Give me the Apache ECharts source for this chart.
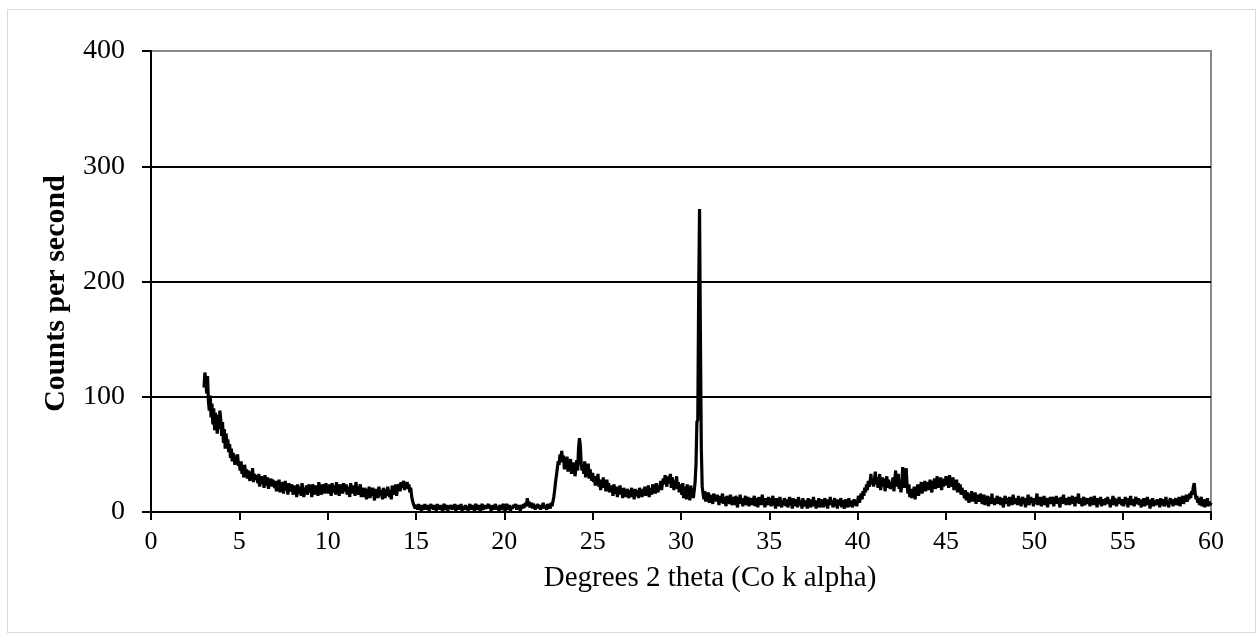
<!DOCTYPE html>
<html>
<head>
<meta charset="utf-8">
<script src="https://cdn.jsdelivr.net/npm/echarts@6/dist/echarts.min.js"></script>
<style>
html,body{margin:0;padding:0;background:#fff;}
#frame{position:absolute;left:7px;top:9px;width:1249px;height:624px;border:1px solid #d9d9d9;box-sizing:border-box;}
#chart{position:absolute;left:0;top:0;width:1260px;height:635px;}
</style>
</head>
<body>
<div id="frame"></div>
<div id="chart"></div>
<script>
// Scan settings (degrees 2 theta): each row starts at a whole degree
const firstDegree = 3;
const stepAngle = 0.05;
// Counts per second, one row per degree (x.00, x.05, ... x.95)
const countsByDegree = [
  [108,121,115,103,118,96,88,101,82,94,76,90,71,86,79,68,84,72,88,80],   // 3
  [66,78,60,72,55,68,58,63,52,59,47,55,44,51,49,41,47,43,50,40],        // 4
  [42,36,44,33,39,30,41,34,37,29,36,31,27,35,30,38,26,33,28,32],        // 5
  [30,25,33,22,28,31,24,29,21,32,26,23,30,20,27,25,29,22,28,24],        // 6
  [21,27,18,25,23,28,17,24,20,26,16,22,27,19,23,15,25,21,18,24],        // 7
  [20,15,23,17,21,13,24,18,16,22,14,25,19,13,21,17,23,15,20,24],        // 8
  [17,22,13,24,19,15,23,18,21,14,26,17,20,15,24,19,22,16,25,18],        // 9
  [21,16,24,19,14,25,20,17,23,15,26,18,22,14,24,19,21,16,25,20],        // 10
  [18,24,15,22,19,13,25,17,21,16,23,14,26,19,22,15,20,24,13,21],        // 11
  [18,13,21,16,11,20,15,22,12,19,14,21,17,10,20,15,18,12,22,16],        // 12
  [14,19,11,21,16,12,20,14,22,17,13,19,11,23,15,20,17,24,14,21],        // 13
  [20,24,18,26,21,23,27,19,25,22,26,20,24,17,21,14,10,7,5,3],           // 14
  [4,6,2,7,3,5,1,6,4,2,7,3,5,2,6,1,4,7,3,5],                            // 15
  [2,6,4,1,7,3,5,2,6,3,1,5,7,2,4,6,1,5,3,6],                            // 16
  [5,2,6,3,7,1,4,6,2,5,3,7,1,5,4,2,6,3,5,1],                            // 17
  [4,7,2,5,3,6,1,5,7,2,4,6,3,1,5,7,2,4,6,3],                            // 18
  [2,5,7,3,6,1,4,2,6,4,7,2,5,3,1,6,4,2,5,7],                            // 19
  [3,1,5,7,2,4,6,1,5,3,2,6,4,7,2,5,3,6,1,4],                            // 20
  [6,3,7,4,8,5,12,7,9,4,6,8,3,7,5,2,6,4,7,3],                           // 21
  [5,2,6,4,8,3,6,5,2,7,4,6,3,8,5,9,13,19,26,32],                        // 22
  [38,44,41,50,46,53,43,49,37,46,41,48,35,44,39,46,33,41,36,43],        // 23
  [31,38,45,36,55,64,58,42,36,41,33,44,30,39,34,42,29,37,32,27],        // 24
  [34,26,31,23,29,25,33,22,28,19,27,24,30,21,26,18,28,22,25,17],        // 25
  [23,17,21,14,24,19,16,22,13,20,17,23,15,19,12,21,16,18,13,20],        // 26
  [17,12,19,15,21,13,18,11,20,16,14,19,12,21,15,18,13,20,16,22],        // 27
  [14,20,17,23,13,21,18,15,24,19,22,16,25,20,17,23,21,27,19,25],        // 28
  [29,24,32,27,22,31,25,28,33,21,30,26,19,27,23,31,20,26,17,24],        // 29
  [21,15,25,12,22,18,11,24,16,20,10,23,14,21,12,19,26,42,78,80],        // 30
  [190,263,150,55,22,16,11,18,9,14,12,17,8,15,10,13,7,16,11,14],        // 31
  [9,15,11,6,14,8,12,16,7,13,10,5,14,9,12,7,15,10,6,13],                // 32
  [11,6,14,9,4,13,8,15,7,11,5,12,9,14,6,10,13,5,11,8],                  // 33
  [12,6,10,14,5,9,12,4,13,8,11,6,15,7,10,4,12,9,6,13],                  // 34
  [8,12,5,10,14,6,9,3,12,7,11,5,13,8,4,10,6,12,9,5],                    // 35
  [11,4,9,13,6,10,3,12,7,9,5,11,4,13,8,6,10,3,12,7],                    // 36
  [5,10,8,3,12,6,9,4,11,7,13,5,8,3,10,6,12,4,9,7],                      // 37
  [11,4,8,12,5,9,3,11,7,13,6,10,4,8,12,5,9,3,11,6],                     // 38
  [8,12,4,10,6,3,11,7,9,4,12,5,8,10,4,7,11,6,9,5],                      // 39
  [10,14,8,12,16,11,18,14,21,17,24,19,27,22,25,33,24,29,22,28],         // 40
  [35,24,30,21,27,33,19,26,30,22,29,18,27,31,21,28,24,20,26,23],        // 41
  [30,18,27,36,22,29,33,20,27,17,25,39,28,21,26,38,22,16,24,13],        // 42
  [18,12,20,15,22,11,21,17,24,14,23,19,26,16,25,20,27,18,24,21],        // 43
  [26,19,28,22,17,27,23,29,20,25,31,21,28,24,30,19,27,22,29,23],        // 44
  [31,24,28,21,32,25,27,22,30,19,26,23,28,17,25,20,24,15,21,18],        // 45
  [16,12,19,10,17,13,8,16,11,18,9,14,12,17,7,15,11,13,9,16],            // 46
  [13,7,11,15,6,12,9,14,5,10,13,7,16,8,11,6,12,10,14,7],                // 47
  [10,13,6,12,9,4,11,14,7,10,12,5,13,8,11,6,15,9,12,7],                 // 48
  [11,6,14,8,12,5,10,13,7,11,4,12,9,15,6,10,13,8,11,5],                 // 49
  [12,7,10,16,6,11,9,13,5,12,8,14,6,10,12,4,11,9,13,7],                 // 50
  [10,13,5,11,8,14,7,12,9,4,13,10,7,15,8,12,6,11,9,13],                 // 51
  [6,12,9,14,7,10,5,13,8,11,16,7,12,9,5,11,13,6,10,8],                  // 52
  [12,7,10,5,13,9,11,6,14,8,10,4,12,9,7,13,5,11,8,10],                  // 53
  [6,12,9,13,7,10,4,11,8,14,6,12,9,5,11,7,13,8,10,6],                   // 54
  [11,5,9,13,7,10,4,12,8,14,6,9,11,5,10,13,7,9,12,6],                   // 55
  [9,4,11,7,12,5,10,8,13,6,9,3,11,7,12,5,10,8,6,11],                    // 56
  [7,10,4,12,6,9,11,5,8,13,6,10,4,9,12,7,10,5,11,8],                    // 57
  [12,6,10,8,13,5,11,9,14,7,12,10,15,9,13,11,16,12,18,15],              // 58
  [22,25,17,11,14,8,12,6,10,13,5,9,11,4,10,7,12,5,9,6],                 // 59
  [8]                                                                   // 60
];
const xTicks = [0,5,10,15,20,25,30,35,40,45,50,55,60];
const yTicks = [0,100,200,300,400];

const seriesData = [];
countsByDegree.forEach((row, r) => {
  row.forEach((c, j) => {
    seriesData.push([+(firstDegree + r + j * stepAngle).toFixed(2), c]);
  });
});

const chart = echarts.init(document.getElementById('chart'), null, {renderer: 'canvas'});
const serif = '"Liberation Serif", "Times New Roman", serif';
chart.setOption({
  animation: false,
  backgroundColor: 'transparent',
  grid: {left: 151, right: 49, top: 51, bottom: 123, show: true, borderColor: '#8a8a8a', borderWidth: 2, backgroundColor: 'transparent'},
  xAxis: {
    type: 'value', min: xTicks[0], max: xTicks[xTicks.length - 1], interval: 5,
    name: 'Degrees 2 theta (Co k alpha)', nameLocation: 'middle', nameGap: 52,
    nameTextStyle: {fontFamily: serif, fontSize: 29, color: '#000', padding: [0, 0, 0, 58]},
    axisLine: {show: true, onZero: false, lineStyle: {color: '#000', width: 2}},
    axisTick: {show: true, inside: false, length: 8, lineStyle: {color: '#000', width: 2}},
    axisLabel: {fontFamily: serif, fontSize: 26, color: '#000', margin: 17},
    splitLine: {show: false}
  },
  yAxis: {
    type: 'value', min: yTicks[0], max: yTicks[yTicks.length - 1], interval: 100,
    name: 'Counts per second', nameLocation: 'middle', nameGap: 80,
    nameTextStyle: {fontFamily: serif, fontSize: 30, fontWeight: 'bold', color: '#000', padding: [0, 24, 0, 0]},
    axisLine: {show: true, lineStyle: {color: '#000', width: 2}},
    axisTick: {show: true, inside: false, length: 9, lineStyle: {color: '#000', width: 2}},
    axisLabel: {fontFamily: serif, fontSize: 28, color: '#000', margin: 26},
    splitLine: {show: true, lineStyle: {color: ['#000', '#000', '#000', '#000', '#8a8a8a'], width: 2}}
  },
  series: [{
    type: 'line', data: seriesData, showSymbol: false, symbol: 'none',
    lineStyle: {color: '#000', width: 3.2}, sampling: null, z: 3
  }]
});
</script>
</body>
</html>
